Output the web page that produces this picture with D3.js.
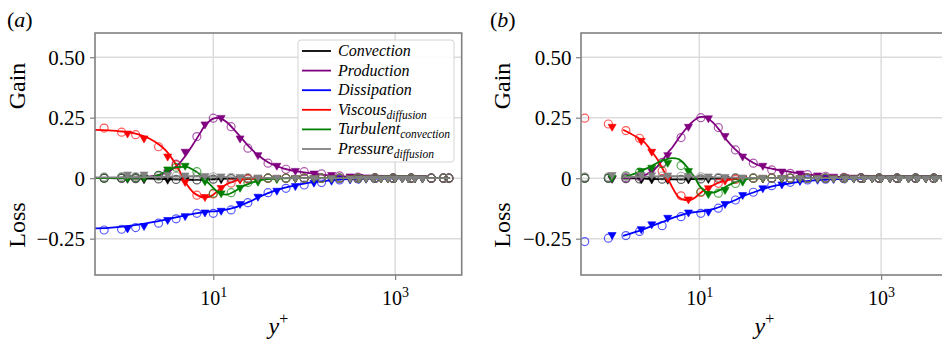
<!DOCTYPE html>
<html>
<head>
<meta charset="utf-8">
<script src="https://cdn.jsdelivr.net/npm/d3@7"></script>
<style>
  html, body { margin: 0; padding: 0; background: #ffffff; }
  svg { display: block; }
</style>
</head>
<body>
<svg id="chart" width="942" height="346"></svg>
<script>
// ---------------- series metadata ----------------
const seriesNames = ["Convection", "Production", "Dissipation", "Viscous", "Turbulent", "Pressure"];
const seriesSubs = ["", "", "", "diffusion", "convection", "diffusion"];
const seriesColors = ["#000000", "#800080", "#0000ff", "#ff0000", "#008000", "#808080"];

// ---------------- axis ticks ----------------
const yTickVals = [-0.25, 0, 0.25, 0.5];
const yTickLabels = ["\u22120.25", "0", "0.25", "0.50"];
const xTickVals = [10, 1000];
const xTickExps = ["1", "3"];

// ---------------- panel (a) ----------------
const aLineY = [0.5, 0.7, 1, 1.5, 2, 2.5, 3, 4, 5, 6, 7, 8, 9, 10, 11, 12, 14, 17, 20, 25, 30, 40, 60, 100, 200, 500, 1000, 2000, 4000];
const aConvLine = [0, 0, -0.001, -0.002, -0.002, -0.003, -0.004, -0.005, -0.006, -0.007, -0.007, -0.006, -0.005, -0.004, -0.004, -0.003, -0.002, -0.002, -0.001, -0.001, 0, 0, 0, 0, 0, 0, 0, 0, 0];
const aProdLine = [0, 0, 0.001, 0.003, 0.007, 0.013, 0.022, 0.052, 0.095, 0.14, 0.18, 0.215, 0.235, 0.246, 0.249, 0.247, 0.232, 0.2, 0.17, 0.128, 0.1, 0.066, 0.04, 0.024, 0.011, 0.003, 0.001, 0, 0];
const aDissLine = [-0.207, -0.205, -0.2, -0.192, -0.184, -0.177, -0.171, -0.161, -0.153, -0.147, -0.143, -0.14, -0.138, -0.137, -0.136, -0.134, -0.13, -0.122, -0.112, -0.097, -0.083, -0.062, -0.04, -0.022, -0.009, -0.002, -0.001, 0, 0];
const aViscLine = [0.2, 0.198, 0.193, 0.181, 0.163, 0.14, 0.115, 0.048, -0.02, -0.058, -0.074, -0.08, -0.077, -0.068, -0.055, -0.042, -0.025, -0.012, -0.006, -0.003, -0.002, -0.001, 0, 0, 0, 0, 0, 0, 0];
const aTurbLine = [0, 0, 0, 0.001, 0.005, 0.013, 0.028, 0.046, 0.047, 0.035, 0.018, -0.005, -0.022, -0.04, -0.055, -0.065, -0.068, -0.055, -0.038, -0.022, -0.012, -0.004, -0.001, 0, 0, 0, 0, 0, 0];
const aPresLine = [0.003, 0.003, 0.004, 0.004, 0.005, 0.005, 0.006, 0.007, 0.008, 0.008, 0.008, 0.007, 0.007, 0.006, 0.006, 0.005, 0.004, 0.003, 0.003, 0.002, 0.002, 0.001, 0.001, 0, 0, 0, 0, 0, 0];

const aCircY = [0.63, 0.98, 1.4, 2.5, 3.9, 6.6, 10, 15.7, 24, 40, 63, 100, 155, 245, 390, 600, 950, 1500, 2500, 3400, 3900];
const aConvCirc = [0, 0, -0.002, -0.003, -0.005, -0.007, -0.004, -0.002, -0.001, 0, 0, 0, 0, 0, 0, 0, 0, 0, 0, 0, 0];
const aProdCirc = [0, 0, 0.002, 0.012, 0.058, 0.172, 0.248, 0.213, 0.124, 0.062, 0.037, 0.027, 0.018, 0.01, 0.005, 0.002, 0.001, 0, 0, 0, 0];
const aDissCirc = [-0.214, -0.211, -0.204, -0.186, -0.168, -0.145, -0.145, -0.131, -0.101, -0.06, -0.042, -0.028, -0.018, -0.007, -0.003, -0.001, 0, 0, 0, 0, 0];
const aViscCirc = [0.207, 0.19, 0.18, 0.13, 0.055, -0.07, -0.065, -0.02, -0.004, 0, 0, 0, 0, 0, 0, 0, 0, 0, 0, 0, 0];
const aTurbCirc = [0, 0.001, 0.002, 0.012, 0.045, 0.027, -0.062, -0.06, -0.018, 0, 0, 0, 0, 0, 0, 0, 0, 0, 0, 0, 0];
const aPresCirc = [0.006, 0.007, 0.007, 0.007, 0.008, 0.008, 0.006, 0.004, 0.002, 0.001, 0, 0, 0, 0, 0, 0, 0, 0, 0, 0, 0];

const aTriY = [1.14, 1.73, 3.15, 4.9, 8.1, 12.2, 19.7, 31, 50, 80, 128, 200, 320, 400, 480, 580, 700, 830, 1000, 1200, 1400, 1650, 2000];
const aConvTri = [-0.002, -0.004, -0.006, -0.007, -0.007, -0.004, -0.002, -0.001, 0, 0, 0, 0, 0, 0, 0, 0, 0, 0, 0, 0, 0, 0, 0];
const aProdTri = [0.001, 0.004, 0.025, 0.11, 0.223, 0.25, 0.165, 0.096, 0.052, 0.031, 0.02, 0.014, 0.008, 0.006, 0.004, 0.003, 0.002, 0.001, 0, 0, 0, 0, 0];
const aDissTri = [-0.207, -0.197, -0.172, -0.156, -0.141, -0.134, -0.106, -0.076, -0.051, -0.032, -0.018, -0.01, -0.005, -0.003, -0.002, -0.001, 0, 0, 0, 0, 0, 0, 0];
const aViscTri = [0.185, 0.165, 0.09, -0.015, -0.077, -0.04, -0.005, 0, 0, 0, 0, 0, 0, 0, 0, 0, 0, 0, 0, 0, 0, 0, 0];
const aTurbTri = [0, 0.002, 0.037, 0.052, -0.012, -0.062, -0.039, -0.014, -0.003, 0, 0, 0, 0, 0, 0, 0, 0, 0, 0, 0, 0, 0, 0];
const aPresTri = [0.016, 0.016, 0.014, 0.012, 0.01, 0.008, 0.006, 0.004, 0.003, 0.002, 0.001, 0.001, 0, 0, 0, 0, 0, 0, 0, 0, 0, 0, 0];

// ---------------- panel (b) ----------------
const bLineY = [1.45, 2, 2.5, 3, 3.5, 4, 4.5, 5, 5.5, 6, 7, 8, 9, 10, 11, 12, 14, 17, 20, 25, 30, 40, 50, 65, 90, 120, 170, 250, 400, 700, 1000, 2000, 5000];
const bConvLine = [0, -0.001, -0.002, -0.003, -0.004, -0.004, -0.005, -0.005, -0.005, -0.005, -0.005, -0.004, -0.004, -0.003, -0.003, -0.002, -0.002, -0.001, -0.001, 0, 0, 0, 0, 0, 0, 0, 0, 0, 0, 0, 0, 0, 0];
const bProdLine = [0, 0.005, 0.012, 0.03, 0.05, 0.078, 0.105, 0.125, 0.147, 0.168, 0.2, 0.225, 0.242, 0.252, 0.254, 0.25, 0.232, 0.195, 0.158, 0.118, 0.093, 0.062, 0.048, 0.038, 0.029, 0.021, 0.014, 0.008, 0.004, 0.002, 0.001, 0, 0];
const bDissLine = [-0.238, -0.222, -0.21, -0.198, -0.188, -0.18, -0.172, -0.165, -0.16, -0.155, -0.147, -0.142, -0.14, -0.138, -0.136, -0.134, -0.128, -0.118, -0.105, -0.09, -0.075, -0.058, -0.045, -0.033, -0.024, -0.016, -0.01, -0.006, -0.003, -0.001, 0, 0, 0];
const bViscLine = [0.2, 0.172, 0.148, 0.11, 0.075, 0.035, 0, -0.035, -0.062, -0.08, -0.09, -0.09, -0.08, -0.065, -0.053, -0.044, -0.03, -0.016, -0.009, -0.004, -0.002, -0.001, 0, 0, 0, 0, 0, 0, 0, 0, 0, 0, 0];
const bTurbLine = [0.005, 0.02, 0.037, 0.05, 0.065, 0.074, 0.08, 0.083, 0.082, 0.078, 0.055, 0.028, 0, -0.03, -0.048, -0.058, -0.06, -0.048, -0.033, -0.016, -0.006, -0.001, 0, 0, 0, 0, 0, 0, 0, 0, 0, 0, 0];
const bPresLine = [0.005, 0.006, 0.006, 0.007, 0.007, 0.008, 0.008, 0.008, 0.008, 0.008, 0.007, 0.007, 0.006, 0.006, 0.005, 0.005, 0.004, 0.003, 0.003, 0.002, 0.002, 0.001, 0.001, 0, 0, 0, 0, 0, 0, 0, 0, 0, 0];

const bCircY = [0.55, 1.0, 1.56, 2.2, 3.9, 6.3, 10.4, 16.2, 25, 39.3, 62.6, 100, 155, 245, 390, 600, 950, 1500, 2400, 3800];
const bConvCirc = [0, 0, -0.002, -0.003, -0.004, -0.005, -0.003, -0.001, 0, 0, 0, 0, 0, 0, 0, 0, 0, 0, 0, 0];
const bProdCirc = [0, 0, 0.002, 0.007, 0.065, 0.168, 0.25, 0.209, 0.117, 0.062, 0.034, 0.02, 0.015, 0.008, 0.004, 0.002, 0, 0, 0, 0];
const bDissCirc = [-0.262, -0.248, -0.237, -0.22, -0.196, -0.159, -0.145, -0.124, -0.09, -0.058, -0.031, -0.017, -0.007, -0.004, -0.002, 0, 0, 0, 0, 0];
const bViscCirc = [0.248, 0.224, 0.197, 0.165, 0.03, -0.073, -0.059, -0.021, -0.005, 0, 0, 0, 0, 0, 0, 0, 0, 0, 0, 0];
const bTurbCirc = [0, 0, 0.01, 0.025, 0.06, 0.052, -0.056, -0.062, -0.022, 0, 0, 0, 0, 0, 0, 0, 0, 0, 0, 0];
const bPresCirc = [0.006, 0.006, 0.008, 0.008, 0.009, 0.008, 0.006, 0.004, 0.002, 0.001, 0, 0, 0, 0, 0, 0, 0, 0, 0, 0];

const bTriY = [1.1, 2.3, 3.0, 4.5, 7.6, 12.6, 19.2, 30, 50, 81, 128, 200, 300, 400, 500, 650, 800, 1000, 1250, 1600, 2000, 2500, 3100, 3900, 4800];
const bConvTri = [-0.002, -0.004, -0.005, -0.006, -0.005, -0.003, -0.002, -0.001, 0, 0, 0, 0, 0, 0, 0, 0, 0, 0, 0, 0, 0, 0, 0, 0, 0];
const bProdTri = [0, 0.008, 0.03, 0.096, 0.213, 0.248, 0.175, 0.09, 0.052, 0.028, 0.02, 0.012, 0.007, 0.005, 0.003, 0.002, 0.001, 0, 0, 0, 0, 0, 0, 0, 0];
const bDissTri = [-0.234, -0.21, -0.19, -0.163, -0.141, -0.138, -0.106, -0.069, -0.041, -0.025, -0.011, -0.006, -0.003, -0.002, -0.001, 0, 0, 0, 0, 0, 0, 0, 0, 0, 0];
const bViscTri = [0.213, 0.155, 0.11, 0, -0.087, -0.041, -0.01, 0, 0, 0, 0, 0, 0, 0, 0, 0, 0, 0, 0, 0, 0, 0, 0, 0, 0];
const bTurbTri = [0.002, 0.03, 0.044, 0.064, 0.03, -0.065, -0.048, -0.014, 0, 0, 0, 0, 0, 0, 0, 0, 0, 0, 0, 0, 0, 0, 0, 0, 0];
const bPresTri = [0.014, 0.014, 0.013, 0.012, 0.01, 0.008, 0.006, 0.004, 0.003, 0.002, 0.001, 0.001, 0, 0, 0, 0, 0, 0, 0, 0, 0, 0, 0, 0, 0];

// ---------------- drawing ----------------
const FONT = "'Liberation Serif', 'Times New Roman', serif";
const svg = d3.select("#chart");
const defs = svg.append("defs");

const panels = [
  {
    tag: "a", left: 95, width: 366.7, labelX: 7, gainX: 25, tickEnd: 85,
    lineY: aLineY, lines: [aConvLine, aProdLine, aDissLine, aViscLine, aTurbLine, aPresLine],
    circY: aCircY, circs: [aConvCirc, aProdCirc, aDissCirc, aViscCirc, aTurbCirc, aPresCirc],
    triY: aTriY, tris: [aConvTri, aProdTri, aDissTri, aViscTri, aTurbTri, aPresTri],
    legend: true
  },
  {
    tag: "b", left: 581, width: 366.7, labelX: 490, gainX: 510, tickEnd: 571.5,
    lineY: bLineY, lines: [bConvLine, bProdLine, bDissLine, bViscLine, bTurbLine, bPresLine],
    circY: bCircY, circs: [bConvCirc, bProdCirc, bDissCirc, bViscCirc, bTurbCirc, bPresCirc],
    triY: bTriY, tris: [bConvTri, bProdTri, bDissTri, bViscTri, bTurbTri, bPresTri],
    legend: false
  }
];

const TOP = 33, BOTTOM = 275;
const y = d3.scaleLinear().domain([-0.4, 0.6]).range([BOTTOM, TOP]);
const frameColor = "#808080";
const gridColor = "#dcdcdc";

panels.forEach(p => {
  const x = d3.scaleLog().domain([0.5, 5400]).range([p.left, p.left + p.width]);
  const g = svg.append("g");

  defs.append("clipPath").attr("id", "clip-" + p.tag)
    .append("rect").attr("x", p.left).attr("y", TOP)
    .attr("width", p.width).attr("height", BOTTOM - TOP);

  // grid
  g.append("g").selectAll("line").data(yTickVals).join("line")
    .attr("x1", p.left).attr("x2", p.left + p.width)
    .attr("y1", d => y(d)).attr("y2", d => y(d))
    .attr("stroke", gridColor).attr("stroke-width", 1.5);
  g.append("g").selectAll("line").data(xTickVals).join("line")
    .attr("x1", d => x(d)).attr("x2", d => x(d))
    .attr("y1", TOP).attr("y2", BOTTOM)
    .attr("stroke", gridColor).attr("stroke-width", 1.5);

  // axes
  const yAxis = g.append("g").attr("transform", `translate(${p.left},0)`)
    .call(d3.axisLeft(y).tickValues(yTickVals).tickSize(5).tickPadding(4)
      .tickFormat((d, i) => yTickLabels[i]));
  yAxis.select(".domain").remove();
  yAxis.selectAll(".tick line").attr("stroke", frameColor).attr("stroke-width", 1.2);
  yAxis.selectAll(".tick text")
    .attr("font-family", FONT).attr("font-size", 21).attr("fill", "#000")
    .attr("x", p.tickEnd - p.left).attr("dy", "0.34em");

  const xAxis = g.append("g").attr("transform", `translate(0,${BOTTOM})`)
    .call(d3.axisBottom(x).tickValues(xTickVals).tickSize(5).tickFormat(""));
  xAxis.select(".domain").remove();
  xAxis.selectAll(".tick line").attr("stroke", frameColor).attr("stroke-width", 1.2);
  xAxis.selectAll(".tick").each(function (d, i) {
    const t = d3.select(this).append("text")
      .attr("y", 30).attr("text-anchor", "middle")
      .attr("font-family", FONT).attr("font-size", 20).attr("fill", "#000");
    t.append("tspan").text("10");
    t.append("tspan").attr("font-size", 14).attr("dy", -8).text(xTickExps[i]);
  });

  // data: reference curve, open circles and filled down-triangles per budget term
  const data = g.append("g").attr("clip-path", `url(#clip-${p.tag})`);
  const line = d3.line().x(d => x(d[0])).y(d => y(d[1])).curve(d3.curveMonotoneX);
  const tri = d3.symbol().type(d3.symbolTriangle).size(28);

  seriesNames.forEach((name, k) => {
    const col = seriesColors[k];
    const sg = data.append("g");
    sg.append("path")
      .datum(p.lineY.map((v, i) => [v, p.lines[k][i]]))
      .attr("d", line).attr("fill", "none")
      .attr("stroke", col).attr("stroke-width", 1.8);
    sg.append("g").selectAll("circle")
      .data(p.circY.map((v, i) => [v, p.circs[k][i]]))
      .join("circle")
      .attr("cx", d => x(d[0])).attr("cy", d => y(d[1])).attr("r", 4)
      .attr("fill", "none").attr("stroke", col).attr("stroke-width", 1.2)
      .attr("stroke-opacity", 0.65);
    sg.append("g").selectAll("path")
      .data(p.triY.map((v, i) => [v, p.tris[k][i]]))
      .join("path")
      .attr("d", tri)
      .attr("transform", d => `translate(${x(d[0])},${y(d[1])}) rotate(180)`)
      .attr("fill", col).attr("stroke", col).attr("stroke-width", 0.6);
  });

  // frame
  g.append("rect").attr("x", p.left).attr("y", TOP)
    .attr("width", p.width).attr("height", BOTTOM - TOP)
    .attr("fill", "none").attr("stroke", frameColor).attr("stroke-width", 1.6);

  // panel tag
  const tag = svg.append("text").attr("x", p.labelX).attr("y", 27)
    .attr("font-family", FONT).attr("font-size", 22).attr("fill", "#000");
  tag.append("tspan").text("(");
  tag.append("tspan").attr("font-style", "italic").text(p.tag);
  tag.append("tspan").text(")");

  // Gain / Loss labels
  [["Gain", 86], ["Loss", 225]].forEach(([txt, cy]) => {
    svg.append("text")
      .attr("transform", `translate(${p.gainX},${cy}) rotate(-90)`)
      .attr("text-anchor", "middle")
      .attr("font-family", FONT).attr("font-size", 24).attr("fill", "#000")
      .text(txt);
  });

  // x-axis title
  const xt = svg.append("text")
    .attr("x", p.left + p.width / 2).attr("y", 334)
    .attr("text-anchor", "middle")
    .attr("font-family", FONT).attr("font-size", 24).attr("fill", "#000");
  xt.append("tspan").attr("font-style", "italic").text("y");
  xt.append("tspan").attr("font-size", 16).attr("dy", -10).text("+");

  // legend
  if (p.legend) {
    const lg = svg.append("g");
    lg.append("rect").attr("x", 298).attr("y", 40).attr("width", 156).attr("height", 122)
      .attr("rx", 3).attr("fill", "#ffffff").attr("fill-opacity", 0.85)
      .attr("stroke", "#d4d4d4").attr("stroke-width", 1);
    seriesNames.forEach((name, k) => {
      const cy = 51 + k * 19.6;
      lg.append("line").attr("x1", 302).attr("x2", 331).attr("y1", cy).attr("y2", cy)
        .attr("stroke", seriesColors[k]).attr("stroke-width", 1.8);
      const t = lg.append("text").attr("x", 338).attr("y", cy + 5)
        .attr("font-family", FONT).attr("font-style", "italic")
        .attr("font-size", 16).attr("fill", "#000");
      t.append("tspan").text(name);
      if (seriesSubs[k]) {
        t.append("tspan").attr("font-size", 11.5).attr("dy", 4).text(seriesSubs[k]);
      }
    });
  }
});
</script>
</body>
</html>
